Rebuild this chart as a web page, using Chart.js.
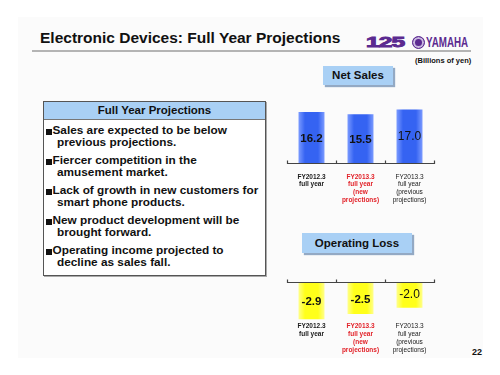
<!DOCTYPE html>
<html>
<head>
<meta charset="utf-8">
<script src="https://cdn.jsdelivr.net/npm/chart.js@4.4.1/dist/chart.umd.min.js"></script>
<style>
  html, body { margin: 0; padding: 0; background: #fff; }
  body { width: 500px; height: 375px; position: relative; overflow: hidden;
         font-family: Arial, "Liberation Sans", sans-serif; color: #111; }
  .abs { position: absolute; white-space: nowrap; }
  .slide { position: absolute; left: 18px; top: 17px; width: 465px; height: 341px; background: #fbfbfb; }
  .rule { position: absolute; left: 32px; top: 50px; width: 439px; height: 2px; background: #b4b4b4; }
  .title { left: 40px; top: 28.6px; font-size: 15.5px; line-height: 18px; font-weight: bold; }
  .logo125 { left: 366px; top: 34px; font-size: 14px; line-height: 16px; font-weight: 900; color: #5b2a90;
             transform-origin: 0 0; transform: scaleX(1.75); letter-spacing: -0.5px;
             -webkit-text-stroke: 0.9px #5b2a90; }
  .emblem { left: 412px; top: 36px; width: 11px; height: 11px; border-radius: 50%; background: #5b2a90;
            border: 1px solid #5b2a90; box-shadow: inset 0 0 0 2px #c9b8e0; }
  .yamaha { left: 426px; top: 34px; font-size: 14px; line-height: 16px; font-weight: bold; color: #5b2a90;
            transform-origin: 0 0; transform: scaleX(0.7); }
  .unit { left: 415px; top: 55.6px; font-size: 7.5px; line-height: 9px; font-weight: bold; }
  .pageno { left: 472px; top: 347px; font-size: 9px; line-height: 10px; font-weight: bold; }
  .tag { position: absolute; background: #a9d0f5; box-shadow: 2px 2px 1px #93a9c4;
         font-size: 11.5px; font-weight: bold; text-align: center; }
  .box { position: absolute; left: 43px; top: 101px; width: 221px; height: 173px;
         border: 1px solid #555; background: #fff; box-shadow: 1px 1px 0 #aaa; }
  .boxhead { position: absolute; left: 0; top: 0; width: 221px; height: 17px; background: #a9d0f5;
             border-bottom: 1px solid #777; font-size: 11.5px; line-height: 17px; font-weight: bold; text-align: center; }
  .bullet { position: absolute; left: 57px; font-size: 11.8px; line-height: 11.6px; font-weight: bold;
            white-space: nowrap; text-indent: -4.5px; }
  .sq { position: absolute; width: 6px; height: 6px; background: #111; }
  .chartwrap { position: absolute; }
</style>
</head>
<body>
<div class="slide"></div>
<div class="abs title">Electronic Devices: Full Year Projections</div>
<div class="rule"></div>
<div class="abs logo125">125</div>
<div class="abs emblem"></div>
<div class="abs yamaha">YAMAHA</div>
<div class="abs unit">(Billions of yen)</div>

<div class="box"><div class="boxhead">Full Year Projections</div></div>
<div id="bullets"></div>

<div class="tag" style="left:323px; top:66px; width:70px; height:19px; line-height:19px;">Net Sales</div>
<div class="tag" style="left:302px; top:233px; width:110px; height:20px; line-height:20px;">Operating Loss</div>

<div class="chartwrap" style="left:280px; top:95px;"><canvas id="salesChart" width="165" height="120"></canvas></div>
<div class="chartwrap" style="left:280px; top:277px;"><canvas id="lossChart" width="165" height="80"></canvas></div>

<div class="abs pageno">22</div>

<script>
// values (billions of yen)
const categories = [
    ['FY2012.3', 'full year'],
    ['FY2013.3', 'full year', '(new', 'projections)'],
    ['FY2013.3', 'full year', '(previous', 'projections)']
];
const netSales = [16.2, 15.5, 17.0];
const operatingLoss = [-2.9, -2.5, -2.0];

const bulletLines = [
    ['Sales are expected to be below', 'previous projections.'],
    ['Fiercer competition in the', 'amusement market.'],
    ['Lack of growth in new customers for', 'smart phone products.'],
    ['New product development will be', 'brought forward.'],
    ['Operating income projected to', 'decline as sales fall.']
];

// bullet text box: one block per bullet, second line hangs a little further in
const bulletsDiv = document.getElementById('bullets');
bulletLines.forEach((pair, i) => {
    const c1 = 131.7 + i * 30;
    const sq = document.createElement('div');
    sq.className = 'sq';
    sq.style.left = '46px';
    sq.style.top = (c1 - 3) + 'px';
    bulletsDiv.appendChild(sq);
    const b = document.createElement('div');
    b.className = 'bullet';
    b.style.top = (c1 - 6.4) + 'px';
    b.appendChild(document.createTextNode(pair[0]));
    b.appendChild(document.createElement('br'));
    b.appendChild(document.createTextNode(pair[1]));
    bulletsDiv.appendChild(b);
});

const FONT = 'Arial, "Liberation Sans", sans-serif';

// zero axis with small upward ticks at category boundaries
const zeroAxis = {
    id: 'zeroAxis',
    afterDatasetsDraw(chart) {
        const xs = chart.scales.x, ys = chart.scales.y, c = chart.ctx;
        const y0 = Math.round(ys.getPixelForValue(0)) + 0.5;
        const n = chart.data.labels.length;
        c.save();
        c.strokeStyle = '#444';
        c.lineWidth = 1.2;
        c.beginPath();
        c.moveTo(xs.left, y0);
        c.lineTo(xs.right, y0);
        for (let i = 0; i <= n; i++) {
            const x = Math.round(xs.left + i * xs.width / n) + 0.5;
            c.moveTo(x, y0 - 3);
            c.lineTo(x, y0 + 0.5);
        }
        c.stroke();
        c.restore();
    }
};

// values printed in the middle of each bar
const barValues = {
    id: 'barValues',
    afterDatasetsDraw(chart) {
        const c = chart.ctx;
        const meta = chart.getDatasetMeta(0);
        const vals = chart.data.datasets[0].data;
        c.save();
        c.fillStyle = '#111';
        c.textAlign = 'center';
        c.textBaseline = 'middle';
        meta.data.forEach((bar, i) => {
            const last = i === vals.length - 1;
            c.font = (last ? 'normal 12px ' : 'bold 11.5px ') + FONT;
            const y = (bar.y + bar.base) / 2 + (last ? 0 : 1.5);
            c.fillText(vals[i].toFixed(1), bar.x, y);
        });
        c.restore();
    }
};

function barFill(edge, mid) {
    return ctx => {
        const chart = ctx.chart;
        const xs = chart.scales.x;
        if (!xs || !chart.chartArea) return mid;
        const cx = xs.getPixelForValue(ctx.dataIndex);
        const g = chart.ctx.createLinearGradient(cx - 13, 0, cx + 13, 0);
        g.addColorStop(0, edge);
        g.addColorStop(0.25, mid);
        g.addColorStop(0.75, mid);
        g.addColorStop(1, edge);
        return g;
    };
}

function makeChart(id, data, fill, yMin, yMax, axisHeight, tickPad) {
    return new Chart(document.getElementById(id), {
        type: 'bar',
        data: {
            labels: categories,
            datasets: [{
                data: data,
                backgroundColor: fill,
                borderWidth: 0,
                categoryPercentage: 1,
                barPercentage: 0.53
            }]
        },
        options: {
            responsive: false,
            animation: false,
            layout: { padding: { top: 5, left: 7, right: 11, bottom: 0 } },
            plugins: { legend: { display: false }, tooltip: { enabled: false } },
            scales: {
                y: { display: false, min: yMin, max: yMax },
                x: {
                    grid: { display: false, drawTicks: false },
                    border: { display: false },
                    afterFit: s => { s.height = axisHeight; },
                    ticks: {
                        padding: tickPad,
                        maxRotation: 0,
                        autoSkip: false,
                        color: c => c.index === 1 ? '#e2232a' : '#1a1a1a',
                        font: c => ({ family: FONT, size: 6.5, weight: c.index === 2 ? 'normal' : 'bold', lineHeight: 1.2 })
                    }
                }
            }
        },
        plugins: [zeroAxis, barValues]
    });
}

makeChart('salesChart', netSales, barFill('#7b9bff', '#3563f2'), 0, 20, 52, 10);
makeChart('lossChart', operatingLoss, barFill('#ffff8c', '#ffff1a'), -3, 0, 36.5, 2);
</script>
</body>
</html>
